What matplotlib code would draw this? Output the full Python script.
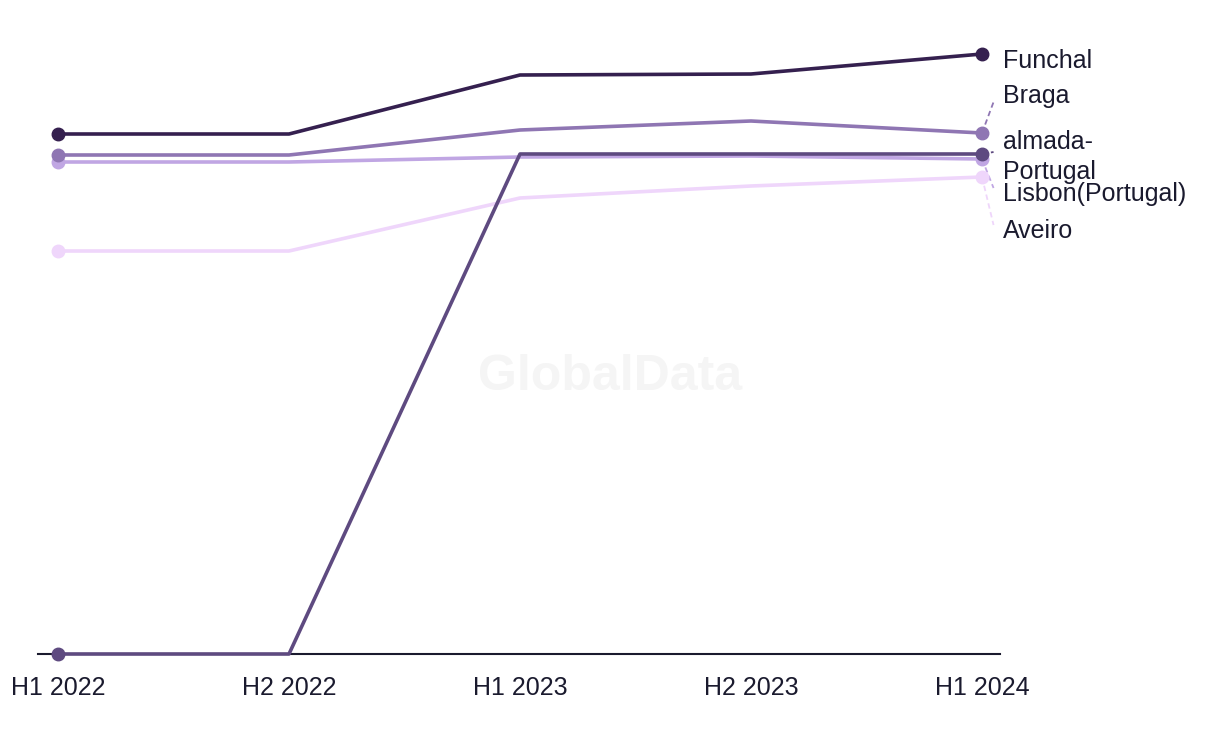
import matplotlib.pyplot as plt

periods = ['H1 2022', 'H2 2022', 'H1 2023', 'H2 2023', 'H1 2024']
names = ['Funchal', 'Braga', 'almada-\nPortugal', 'Lisbon(Portugal)', 'Aveiro']
funchal = [520, 520, 579, 580, 600]
braga = [499, 499, 524, 533, 521]
almada = [0, 0, 500, 500, 500]
lisbon = [492, 492, 497, 498, 495]
aveiro = [403, 403, 456, 468, 477]
series = [funchal, braga, almada, lisbon, aveiro]
colors = ['#35204f', '#8f76b3', '#5e4a80', '#c0a6e3', '#efd6fb']
label_y = [593, 558, 497, 460, 423]  # label positions in data units

plt.rcParams['font.family'] = ['Liberation Sans', 'DejaVu Sans']

fig = plt.figure(figsize=(12.2, 7.44), dpi=100)
ax = fig.add_axes([38/1220, 90/744, 962/1220, 634/744])
x = list(range(len(periods)))

# draw bottom series first so Funchal sits on top
for i in reversed(range(len(series))):
    ax.plot(x, series[i], color=colors[i], lw=2.6, marker='o', ms=9,
            markevery=[0, len(x) - 1], zorder=3 + (len(series) - i) * 0.1,
            clip_on=False, solid_joinstyle='round')
    ax.text(4.09, label_y[i], names[i], fontsize=18, color='#1a1a2e',
            va='center', ha='left', linespacing=1.3)
    if i > 0:
        end = series[i][-1]
        tgt = label_y[i]
        if i == 2:
            tgt = 508
        ax.plot([4.0, 4.05], [end, tgt - (6 if tgt > end else -6)],
                color=colors[i], lw=1.3, ls=(0, (3, 2)), clip_on=False)

fig.text(610/1220, 1 - 377/744, 'GlobalData', ha='center', va='center',
         fontsize=36, fontweight='bold', color='#f5f5f5', zorder=0)

ax.set_xlim(-20/231, 4 + 18/231)
ax.set_ylim(0, 634)
ax.set_xticks(x)
ax.set_xticklabels(periods, fontsize=18, color='#1a1a2e')
ax.tick_params(axis='x', length=0, pad=16)
ax.set_yticks([])
ax.patch.set_alpha(0)
for s in ['top', 'right', 'left']:
    ax.spines[s].set_visible(False)
ax.spines['bottom'].set_color('#1a1a2e')
ax.spines['bottom'].set_linewidth(1.5)

fig.savefig('out.png', dpi=100)
